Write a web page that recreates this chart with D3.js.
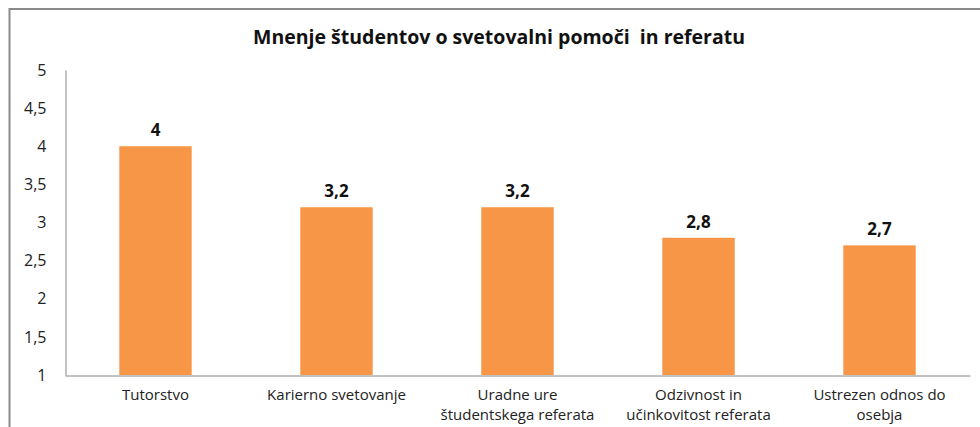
<!DOCTYPE html>
<html><head><meta charset="utf-8">
<script src="https://cdn.jsdelivr.net/npm/d3@7"></script>
<style>body{margin:0;background:#fff}svg{display:block}</style>
</head><body>
<svg id="c" width="980" height="427"></svg>
<script>
const title = "Mnenje študentov o svetovalni pomoči  in referatu";
const categories = [["Tutorstvo"],["Karierno svetovanje"],["Uradne ure","študentskega referata"],["Odzivnost in","učinkovitost referata"],["Ustrezen odnos do","osebja"]];
const values = [4, 3.2, 3.2, 2.8, 2.7];
const valueLabels = ["4","3,2","3,2","2,8","2,7"];
const yTicks = [1,1.5,2,2.5,3,3.5,4,4.5,5];
const yTickLabels = ["1","1,5","2","2,5","3","3,5","4","4,5","5"];

const svg = d3.select("#c");
const font = "'Open Sans', 'Liberation Sans', sans-serif";
// frame
svg.append("rect").attr("x",9.5).attr("y",9).attr("width",1000).attr("height",500)
  .attr("fill","#fff").attr("stroke","#8a8a8a").attr("stroke-width",2);

const x = d3.scaleBand().domain(d3.range(categories.length)).range([65,970]).paddingInner(0.6).paddingOuter(0.3);
const y = d3.scaleLinear().domain([1,5]).range([375,70]);

// y axis
const ya = d3.axisLeft(y).tickValues(yTicks).tickFormat((d,i)=>yTickLabels[i]).tickSize(0).tickPadding(19);
const gy = svg.append("g").attr("transform","translate(65.5,0)").call(ya);
gy.select(".domain").attr("stroke","#868686");
gy.selectAll("text").attr("font-family",font).attr("font-size",16).attr("fill","#222");

// x axis
const xa = d3.axisBottom(x).tickSize(0).tickFormat("");
const gx = svg.append("g").attr("transform","translate(0,375.5)").call(xa);
gx.select(".domain").attr("stroke","#868686");

// bars
svg.selectAll("rect.bar").data(values).enter().append("rect").attr("class","bar")
  .attr("x",(d,i)=>x(i)).attr("width",x.bandwidth())
  .attr("y",d=>y(d)).attr("height",d=>y(1)-y(d)).attr("fill","#F79646");

// value labels
svg.selectAll("text.val").data(values).enter().append("text").attr("class","val")
  .attr("x",(d,i)=>x(i)+x.bandwidth()/2).attr("y",d=>y(d)-10)
  .attr("text-anchor","middle").attr("font-family",font).attr("font-weight","bold")
  .attr("font-size",17).attr("fill","#111").text((d,i)=>valueLabels[i]);

// category labels
categories.forEach((lines,i)=>{
  const t = svg.append("text").attr("text-anchor","middle").attr("font-family",font)
    .attr("font-size",15).attr("fill","#222");
  lines.forEach((l,j)=>{
    t.append("tspan").attr("x",x(i)+x.bandwidth()/2).attr("y",400+j*20).text(l);
  });
});

// title
svg.append("text").attr("x",499).attr("y",44).attr("text-anchor","middle")
  .attr("font-family",font).attr("font-weight","bold").attr("font-size",19.5).attr("fill","#111")
  .attr("xml:space","preserve").text(title);
</script>
</body></html>
